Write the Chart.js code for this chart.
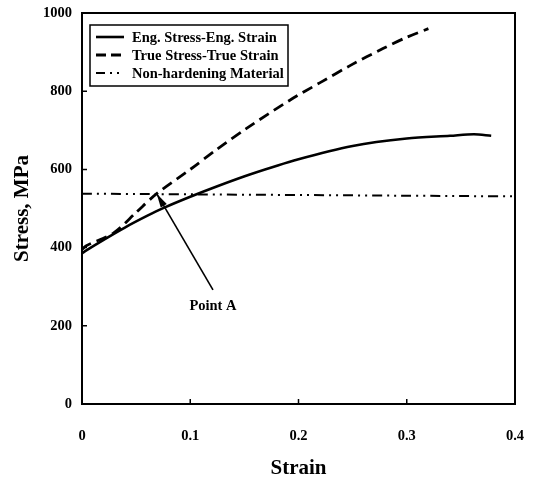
<!DOCTYPE html>
<html>
<head>
<meta charset="utf-8">
<script src="https://cdn.jsdelivr.net/npm/chart.js@4/dist/chart.umd.min.js"></script>
<style>
html,body{margin:0;padding:0;background:#fff;}
canvas{display:block;}
</style>
</head>
<body>
<canvas id="c" width="533" height="481"></canvas>
<script>
// ---- data ----
const engStrain = [0, 0.004, 0.02, 0.04, 0.06, 0.075, 0.1, 0.125, 0.155, 0.2, 0.25, 0.3, 0.34, 0.362, 0.378];
const engStress = [385, 393, 420, 452, 481, 501, 530, 557, 587, 626, 660, 679, 686, 690, 686];
const trueStrain = [0, 0.004, 0.029, 0.05, 0.069, 0.1, 0.124, 0.152, 0.192, 0.22, 0.248, 0.278, 0.3, 0.32];
const trueStress = [395, 405, 437, 490, 538, 600, 650, 705, 777, 822, 866, 909, 938, 960];
const nhStrain = [0, 0.398];
const nhStress = [538, 531];
const seriesNames = ['Eng. Stress-Eng. Strain', 'True Stress-True Strain', 'Non-hardening Material'];
const xTicks = [0, 0.1, 0.2, 0.3, 0.4];
const yTicks = [0, 200, 400, 600, 800, 1000];
const pointA = [0.069, 538];      // arrow tip (strain, stress)
const pointALabel = [0.121, 251]; // label anchor (strain, stress)
const pointAText = 'Point A';

const pts = (xs, ys) => xs.map((x, i) => ({x: x, y: ys[i]}));
const SERIF = '"Liberation Serif", "DejaVu Serif", serif';

const styles = [
  {borderDash: [], borderWidth: 2.6},
  {borderDash: [11, 6], borderWidth: 2.8},
  {borderDash: [10, 5, 2, 5, 2, 5], borderWidth: 2}
];

const framePlugin = {
  id: 'frame',
  afterDatasetsDraw(chart) {
    const {ctx, chartArea: a, scales} = chart;
    ctx.save();
    ctx.strokeStyle = '#000';
    ctx.lineWidth = 2;
    ctx.setLineDash([]);
    ctx.strokeRect(a.left, a.top, a.right - a.left, a.bottom - a.top);
    // inward ticks
    ctx.lineWidth = 1.5;
    ctx.beginPath();
    yTicks.slice(1, -1).forEach(v => {
      const y = scales.y.getPixelForValue(v);
      ctx.moveTo(a.left, y); ctx.lineTo(a.left + 5, y);
    });
    xTicks.slice(1, -1).forEach(v => {
      const x = scales.x.getPixelForValue(v);
      ctx.moveTo(x, a.bottom); ctx.lineTo(x, a.bottom - 5);
    });
    ctx.stroke();

    // Point A arrow
    const tx = scales.x.getPixelForValue(pointA[0]), ty = scales.y.getPixelForValue(pointA[1]);
    const lx = scales.x.getPixelForValue(pointALabel[0]), ly = scales.y.getPixelForValue(pointALabel[1]);
    const sx = lx, sy = ly - 16;
    ctx.lineWidth = 1.6;
    ctx.beginPath(); ctx.moveTo(sx, sy); ctx.lineTo(tx, ty); ctx.stroke();
    const ang = Math.atan2(ty - sy, tx - sx);
    const L = 14, W = 3.5;
    ctx.beginPath();
    ctx.moveTo(tx, ty);
    ctx.lineTo(tx - L * Math.cos(ang) + W * Math.sin(ang), ty - L * Math.sin(ang) - W * Math.cos(ang));
    ctx.lineTo(tx - L * Math.cos(ang) - W * Math.sin(ang), ty - L * Math.sin(ang) + W * Math.cos(ang));
    ctx.closePath(); ctx.fillStyle = '#000'; ctx.fill();
    ctx.font = 'bold 14.5px ' + SERIF;
    ctx.textAlign = 'center'; ctx.textBaseline = 'middle';
    ctx.fillText(pointAText, lx, ly);

    // legend box
    const bx = a.left + 8, by = a.top + 12, bw = 198, bh = 61;
    ctx.fillStyle = '#fff';
    ctx.fillRect(bx, by, bw, bh);
    ctx.lineWidth = 1.5;
    ctx.strokeRect(bx, by, bw, bh);
    ctx.font = 'bold 14.5px ' + SERIF;
    ctx.textAlign = 'left';
    seriesNames.forEach((n, i) => {
      const yy = by + 12 + i * 18;
      ctx.beginPath();
      ctx.lineWidth = styles[i].borderWidth;
      ctx.setLineDash(i === 1 ? [10, 5] : i === 2 ? [9, 5, 2, 5, 2, 5] : []);
      ctx.moveTo(bx + 6, yy); ctx.lineTo(bx + 34, yy); ctx.stroke();
      ctx.setLineDash([]);
      ctx.fillStyle = '#000';
      ctx.fillText(n, bx + 42, yy + 1);
    });
    ctx.restore();
  }
};

new Chart(document.getElementById('c'), {
  type: 'line',
  data: {
    datasets: [
      {label: seriesNames[0], data: pts(engStrain, engStress)},
      {label: seriesNames[1], data: pts(trueStrain, trueStress)},
      {label: seriesNames[2], data: pts(nhStrain, nhStress)}
    ].map((d, i) => Object.assign(d, {
      borderColor: '#000', backgroundColor: '#000', pointRadius: 0,
      tension: 0.3, fill: false,
      borderDash: styles[i].borderDash, borderWidth: styles[i].borderWidth
    }))
  },
  options: {
    responsive: false,
    animation: false,
    devicePixelRatio: 1,
    layout: {padding: {left: 0, top: 13, right: 18, bottom: 0}},
    plugins: {legend: {display: false}, tooltip: {enabled: false}},
    scales: {
      x: {
        type: 'linear', min: 0, max: 0.4,
        afterBuildTicks: s => { s.ticks = xTicks.map(v => ({value: v})); },
        afterFit: s => { s.height = 77; s.paddingRight = 0; s.paddingLeft = 0; },
        grid: {display: false, drawTicks: false},
        border: {display: false},
        ticks: {padding: 24, color: '#000', font: {family: SERIF, size: 14.5, weight: 'bold'},
                maxRotation: 0, callback: v => String(v)},
        title: {display: true, text: 'Strain', color: '#000',
                font: {family: SERIF, size: 21, weight: 'bold'}, padding: {top: 0, bottom: 0}}
      },
      y: {
        type: 'linear', min: 0, max: 1000,
        afterBuildTicks: s => { s.ticks = yTicks.map(v => ({value: v})); },
        afterFit: s => { s.width = 82; s.paddingTop = 0; s.paddingBottom = 0; },
        grid: {display: false, drawTicks: false},
        border: {display: false},
        ticks: {padding: 10, color: '#000', font: {family: SERIF, size: 14.5, weight: 'bold'},
                callback: v => String(v)},
        title: {display: true, text: 'Stress, MPa', color: '#000',
                font: {family: SERIF, size: 21, weight: 'bold'}, padding: {top: 10, bottom: 0}}
      }
    }
  },
  plugins: [framePlugin]
});
</script>
</body>
</html>
